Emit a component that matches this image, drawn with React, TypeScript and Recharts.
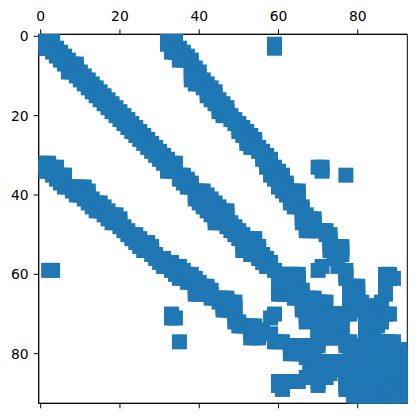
import React from "react";
import { ScatterChart, Scatter, XAxis, YAxis, ReferenceArea } from "recharts";

const tickValues = [0, 20, 40, 60, 80];
const matrixSize = 93;
const markerColor = "#1f77b4";

// last column of the main diagonal band, rows 0..69
const mainBandEnd = [
  3, 3, 3, 4, 5, 6, 7, 9, 9, 10,
  11, 12, 13, 14, 15, 16, 17, 18, 19, 20,
  21, 22, 23, 24, 25, 26, 27, 28, 29, 30,
  31, 32, 34, 34, 34, 36, 37, 38, 38, 41,
  42, 43, 44, 45, 47, 47, 47, 48, 49, 50,
  51, 54, 54, 55, 55, 56, 57, 58, 58, 59,
  65, 65, 65, 65, 66, 66, 69, 72, 71, 71,
];
// first and last columns of the off-diagonal band, rows 0..69
const sideBandStart = [
  32, 32, 32, 33, 33, 35, 35, 38, 38, 38,
  38, 38, 39, 41, 42, 42, 43, 44, 45, 45,
  46, 48, 49, 50, 50, 51, 52, 52, 53, 55,
  56, 56, 57, 57, 58, 58, 59, 60, 60, 61,
  62, 63, 63, 64, 66, 66, 66, 66, 67, 67,
  72, 73, 73, 73, 73, 75, 77, 77, 77, 77,
  77, 77, 78, 78, 78, 78, 78, 78, 78, 78,
];
const sideBandEnd = [
  34, 34, 34, 35, 36, 37, 38, 38, 39, 40,
  40, 41, 42, 43, 44, 44, 45, 46, 47, 47,
  48, 49, 50, 51, 52, 53, 54, 54, 55, 56,
  57, 58, 58, 59, 60, 61, 61, 62, 62, 65,
  65, 65, 65, 66, 66, 67, 69, 69, 69, 72,
  73, 73, 73, 76, 76, 76, 76, 76, 76, 77,
  77, 77, 77, 80, 80, 80, 80, 81, 82, 84,
];
// [row, first column, last column] of the remaining runs
const extraRuns = [
  [2, 59, 59], [3, 59, 59],
  [33, 70, 71], [34, 71, 71], [35, 77, 77],
  [58, 71, 71], [59, 70, 70], [58, 75, 75], [56, 74, 74],
  [60, 87, 88], [61, 87, 89], [62, 87, 87], [63, 87, 87], [64, 87, 87], [65, 87, 87],
  [67, 86, 86], [68, 83, 86], [69, 82, 86],
  [70, 70, 78], [70, 82, 88],
  [71, 71, 76], [71, 82, 86],
  [72, 72, 76], [72, 82, 86],
  [73, 73, 76], [73, 82, 85],
  [74, 74, 76], [74, 82, 84],
  [75, 75, 76], [75, 82, 84],
  [76, 76, 76], [76, 82, 84],
  [77, 77, 78], [77, 82, 89],
  [78, 78, 89],
  [79, 79, 92], [80, 80, 92], [81, 81, 92], [82, 82, 92], [83, 83, 92], [84, 84, 92],
  [85, 85, 92], [86, 86, 92], [87, 87, 92], [88, 88, 92], [89, 89, 92], [90, 90, 92],
  [91, 91, 92], [92, 92, 92],
];

// The matrix is symmetric: the runs above give its upper triangle.
const buildPoints = () => {
  const seen = new Set<string>();
  const out: { col: number; row: number }[] = [];
  const add = (r: number, c: number) => {
    for (const [a, b] of [[r, c], [c, r]]) {
      const k = a + "," + b;
      if (!seen.has(k)) {
        seen.add(k);
        out.push({ row: a, col: b });
      }
    }
  };
  const run = (r: number, a: number, b: number) => {
    for (let c = a; c <= b; c++) add(r, c);
  };
  mainBandEnd.forEach((e, r) => run(r, r, e));
  sideBandStart.forEach((s, r) => run(r, s, sideBandEnd[r]));
  extraRuns.forEach(([r, a, b]) => run(r, a, b));
  return out;
};

const points = buildPoints();
const Square = (props: any) => {
  const { cx, cy } = props;
  return <rect x={cx - 7.5} y={cy - 7.5} width={15} height={15} fill={markerColor} />;
};

const domain: [number, number] = [-0.5, matrixSize - 0.5];
const tickStyle = { fontFamily: "DejaVu Sans", fontSize: 13.9, fill: "#000" };

export default function App() {
  return (
    <ScatterChart width={401} height={402} margin={{ top: 0, right: 1.7, bottom: 0, left: 0 }}>
      <XAxis xAxisId="top" type="number" dataKey="col" orientation="top" domain={domain} ticks={tickValues} allowDataOverflow height={26.3} tickSize={5} tickMargin={8} interval={0} tick={tickStyle} stroke="#000" />
      <XAxis xAxisId="bottom" type="number" dataKey="col" orientation="bottom" domain={domain} ticks={tickValues} allowDataOverflow height={6.7} tickSize={5} interval={0} tickFormatter={() => ""} stroke="#000" />
      <YAxis type="number" dataKey="row" reversed domain={domain} ticks={tickValues} allowDataOverflow width={30.7} tickSize={5} tickMargin={5} interval={0} tick={tickStyle} stroke="#000" />
      <Scatter xAxisId="top" data={points} shape={Square} isAnimationActive={false} />
      <ReferenceArea xAxisId="top" x1={domain[0]} x2={domain[1]} y1={domain[0]} y2={domain[1]} fill="none" fillOpacity={0} stroke="#000" strokeWidth={1} strokeOpacity={1} ifOverflow="visible" />
    </ScatterChart>
  );
}
